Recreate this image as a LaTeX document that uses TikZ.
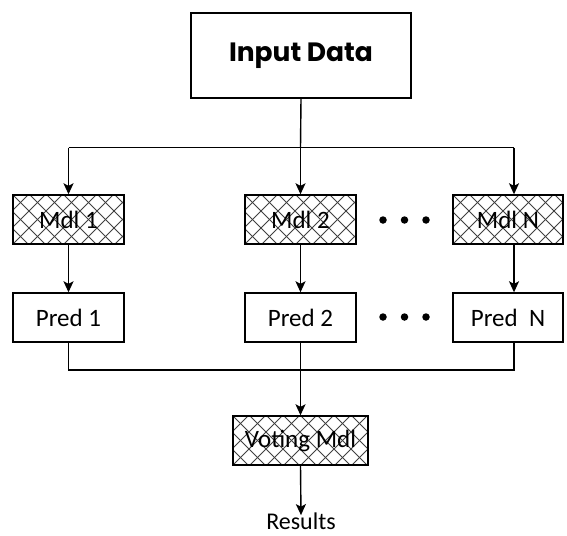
\documentclass[tikz,border=0pt]{standalone}
\usepackage{fontspec}
\setmainfont{Carlito}
\newfontfamily\titlefont{Poppins}[UprightFont=* Bold]
\usetikzlibrary{arrows.meta}
\begin{document}
\begin{tikzpicture}[x=1pt,y=-1pt,
  box/.style={draw=black,line width=1.4pt,rectangle,inner sep=0pt,minimum height=49pt,font=\fontsize{25}{27}\selectfont},
  hatchbox/.style={box,path picture={
     \foreach \k in {-5,...,10}{
       \draw[black!75,line width=1pt] ([xshift=\k*17pt]path picture bounding box.south west) -- ++(70pt,70pt);
       \draw[black!75,line width=1pt] ([xshift=\k*17pt]path picture bounding box.north west) -- ++(70pt,-70pt);
     }}},
  arr/.style={line width=1.4pt,-{Stealth[length=11pt,width=10pt,inset=2.5pt]}},
  ln/.style={line width=1.4pt},
  dot/.style={circle,fill=black,inner sep=0pt,minimum size=7.5pt}]
\useasboundingbox (0,0) rectangle (567,535);
\fill[white] (0,0) rectangle (567,535);

\node[box,minimum width=220pt,minimum height=85pt,font=\titlefont\fontsize{26.5}{30}\selectfont] (input) at (301,55.5) {Input Data};

\node[hatchbox,minimum width=111pt] (mdl1) at (68.5,219.5) {Mdl 1};
\node[hatchbox,minimum width=111pt] (mdl2) at (300.5,219.5) {Mdl 2};
\node[hatchbox,minimum width=110pt] (mdlN) at (508,219.5) {Mdl N};

\node[box,minimum width=111pt] (pred1) at (68.5,317.5) {Pred 1};
\node[box,minimum width=111pt] (pred2) at (300.5,317.5) {Pred 2};
\node[box,minimum width=110pt] (predN) at (508,317.5) {Pred\ \ N};

\node[hatchbox,minimum width=135pt] (vote) at (300.5,440.5) {Voting Mdl};
\node[inner sep=0pt,anchor=base,font=\fontsize{24}{26}\selectfont] (res) at (301,529) {Results};

\node[dot] (d1) at (383,220) {};
\node[dot] (d2) at (404.5,220) {};
\node[dot] (d3) at (426,220) {};
\node[dot] (e1) at (383,317) {};
\node[dot] (e2) at (404.5,317) {};
\node[dot] (e3) at (426,317) {};

\coordinate (tl) at (68.5,147.5);
\coordinate (tm) at (300.5,147.5);
\coordinate (tr) at (514,147.5);
\coordinate (bl) at (68.5,370);
\coordinate (bm) at (300.5,370);
\coordinate (br) at (514,370);

\draw[ln] (input.south) -- (tm);
\draw[ln] (tl) -- (tr);
\draw[arr] (tl) -- (mdl1.north);
\draw[arr] (tm) -- (mdl2.north);
\draw[arr] (tr) -- (tr |- mdlN.north);

\draw[arr] (mdl1.south) -- (pred1.north);
\draw[arr] (mdl2.south) -- (pred2.north);
\draw[arr] (tr |- mdlN.south) -- (tr |- predN.north);

\draw[ln] (pred1.south) -- (bl) -- (br) -- (br |- predN.south);
\draw[arr] (pred2.south) -- (vote.north);
\draw[arr] (vote.south) -- ([yshift=-3pt]res.north);
\end{tikzpicture}
\end{document}
